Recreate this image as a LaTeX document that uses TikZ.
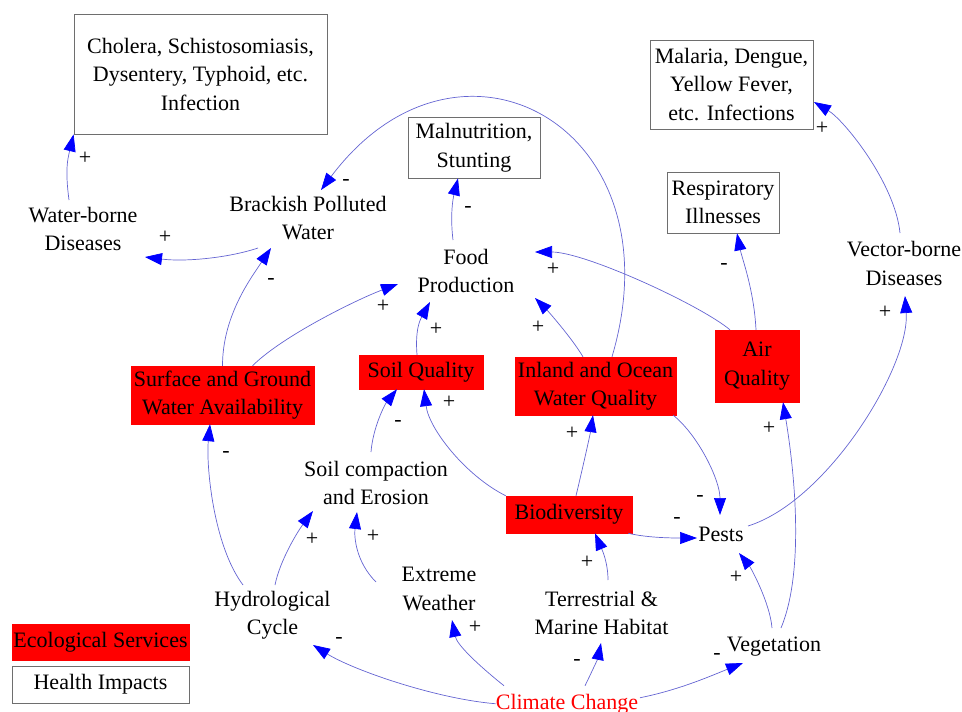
\documentclass[tikz,border=0pt]{standalone}
\usepackage{fontspec}
\setmainfont{Liberation Serif}
\usetikzlibrary{arrows.meta}
\definecolor{linkcol}{RGB}{100,100,210}
\definecolor{boxgray}{RGB}{110,110,110}
\definecolor{ecored}{RGB}{255,0,0}
\tikzset{
  lbl/.style={font=\fontsize{22}{28.5}\selectfont, align=center, inner sep=0pt},
  hbox/.style={lbl, draw=boxgray, line width=0.8pt},
  ebox/.style={lbl, fill=ecored, draw=ecored},
  link/.style={draw=linkcol, line width=0.7pt, -{Triangle[length=17pt,width=12pt,color=blue]}},
  sign/.style={font=\fontsize{22}{28.5}\selectfont, inner sep=0pt, anchor=base},
}
\begin{document}
\begin{tikzpicture}[x=1pt,y=-1pt]
\useasboundingbox (0,0) rectangle (962,712);

% health impacts
\node[hbox, minimum width=253pt, minimum height=120pt] (chol) at (200.5,74) {Cholera, Schistosomiasis,\\Dysentery, Typhoid, etc.\\Infection};
\node[hbox, minimum width=163pt, minimum height=89pt] (mal) at (731.5,84.5) {Malaria, Dengue,\\Yellow Fever,\\etc. Infections};
\node[hbox, minimum width=132pt, minimum height=61pt] (malnut) at (474,147.5) {Malnutrition,\\Stunting};
\node[hbox, minimum width=112pt, minimum height=61pt] (resp) at (723,202.5) {Respiratory\\Illnesses};

% intermediate variables
\node[lbl] (wbd) at (83,229) {Water-borne\\Diseases};
\node[lbl] (brack) at (308,218) {Brackish Polluted\\Water};
\node[lbl] (food) at (466,271) {Food\\Production};
\node[lbl] (vbd) at (904,263.5) {Vector-borne\\Diseases};
\node[lbl] (soilc) at (376,483) {Soil compaction\\and Erosion};
\node[lbl] (pests) at (721,534) {Pests};
\node[lbl] (hydro) at (272.5,615) {Hydrological\\Cycle};
\node[lbl] (extreme) at (439,589) {Extreme\\Weather};
\node[lbl] (terr) at (601.5,613) {Terrestrial \&\\Marine Habitat};
\node[lbl] (veg) at (774,647) {Vegetation};
\node[lbl, text=ecored, anchor=base] (climate) at (567,709) {Climate Change};

% ecological services
\node[ebox, minimum width=183pt, minimum height=58pt] (sgw) at (222.5,395) {Surface and Ground\\Water Availability};
\node[ebox, minimum width=124pt, minimum height=34pt] (soilq) at (421,372) {Soil Quality};
\node[ebox, minimum width=161pt, minimum height=58pt] (inland) at (595.5,386) {Inland and Ocean\\Water Quality};
\node[ebox, minimum width=84pt, minimum height=72pt] (air) at (757,366) {Air\\Quality};
\node[ebox, minimum width=126pt, minimum height=37pt] (bio) at (569,514.5) {Biodiversity};

% legend
\node[ebox, minimum width=177pt, minimum height=36pt] (legeco) at (100.5,642) {Ecological Services};
\node[hbox, minimum width=177pt, minimum height=37pt] (leghealth) at (100.5,684.5) {Health Impacts};

% causal links
\draw[link] ([shift={(-14,-29)}]wbd.center) .. controls +(-4,-30) and +(-6,25) .. (chol.south west);
\draw[link] ([shift={(-50,30)}]brack.center) .. controls +(-30,10) and +(40,5) .. ([shift={(62,28)}]wbd.center);
\draw[link] (sgw.north) .. controls +(0,-50) and +(-20,30) .. ([shift={(-37,30)}]brack.center);
\draw[link] ([shift={(30,0)}]sgw.north) .. controls +(30,-30) and +(-40,15) .. ([shift={(-68,13)}]food.center);
\draw[link] ([shift={(-4,0)}]soilq.north) .. controls +(-2,-25) and +(-10,18) .. ([shift={(-36,31)}]food.center);
\draw[link] ([shift={(-12.5,0)}]inland.north) .. controls +(-12,-20) and +(12,12) .. ([shift={(69,27)}]food.center);
\draw[link] ([shift={(16.5,0)}]inland.north) .. controls +(68,-230) and +(138,-184) .. ([shift={(13,-28)}]brack.center);
\draw[link] ([shift={(-13,-31)}]food.center) .. controls +(-3,-25) and +(-5,20) .. ([shift={(-16,0)}]malnut.south);
\draw[link] ([shift={(-27,0)}]air.north) .. controls +(-30,-25) and +(50,0) .. ([shift={(69,-19)}]food.center);
\draw[link] ([shift={(-1,0)}]air.north) .. controls +(-2,-40) and +(5,25) .. ([shift={(14,0)}]resp.south);
\draw[link] ([shift={(-4,-30.5)}]vbd.center) .. controls +(-5,-50) and +(30,18) .. ([shift={(82.5,17.5)}]mal.center);
\draw[link] ([shift={(27,-8)}]pests.center) .. controls +(80,-25) and +(5,70) .. ([shift={(1,32.5)}]vbd.center);
\draw[link] ([shift={(-5,-31)}]soilc.center) .. controls +(2,-25) and +(-12,15) .. ([shift={(-24,0)}]soilq.south);
\draw[link] (bio.north west) .. controls +(-40,-20) and +(5,40) .. ([shift={(3,0)}]soilq.south);
\draw[link] ([shift={(7,0)}]bio.north) .. controls +(6,-25) and +(-3,20) .. ([shift={(-2.5,0)}]inland.south);
\draw[link] ([shift={(-4,0)}]bio.south east) .. controls +(20,5) and +(-20,0) .. ([shift={(-24,4)}]pests.center);
\draw[link] ([shift={(-3,0)}]inland.south east) .. controls +(25,20) and +(0,-35) .. ([shift={(-1,-19)}]pests.center);
\draw[link] ([shift={(-2,-19)}]veg.center) .. controls +(-2,-25) and +(12,15) .. ([shift={(18,19)}]pests.center);
\draw[link] ([shift={(7,-19)}]veg.center) .. controls +(25,-60) and +(10,60) .. ([shift={(26,0)}]air.south);
\draw[link] ([shift={(-29.5,-30)}]hydro.center) .. controls +(-30,-40) and +(-4,40) .. ([shift={(-12.5,0)}]sgw.south);
\draw[link] ([shift={(2.5,-30)}]hydro.center) .. controls +(5,-25) and +(-15,20) .. ([shift={(-63,28)}]soilc.center);
\draw[link] ([shift={(-63,-7)}]extreme.center) .. controls +(-20,-20) and +(-3,25) .. ([shift={(-19,29)}]soilc.center);
\draw[link] (climate.west) .. controls +(-60,-5) and +(40,25) .. ([shift={(40.5,30)}]hydro.center);
\draw[link] ([shift={(-63,-18)}]climate.center) .. controls +(-25,-20) and +(5,25) .. ([shift={(13,31)}]extreme.center);
\draw[link] ([shift={(18,-18)}]climate.center) .. controls +(5,-10) and +(-3,15) .. ([shift={(-0.5,30)}]terr.center);
\draw[link] ([shift={(73,-6)}]climate.center) .. controls +(40,-8) and +(-30,12) .. ([shift={(-31,16)}]veg.center);
\draw[link] ([shift={(6.5,-33)}]terr.center) .. controls +(0,-20) and +(5,12) .. ([shift={(26,0)}]bio.south);

% link polarities
\node[sign] (pa) at (85,164) {+};
\node[sign] (pb) at (165,243) {+};
\node[sign] (pc) at (271,284) {-};
\node[sign] (pd) at (383,312) {+};
\node[sign] (pe) at (436,335) {+};
\node[sign] (pf) at (538,333) {+};
\node[sign] (pg) at (346,185) {-};
\node[sign] (ph) at (468,212) {-};
\node[sign] (pi) at (553,275) {+};
\node[sign] (pj) at (724,269) {-};
\node[sign] (pk) at (822,134) {+};
\node[sign] (pl) at (885,318) {+};
\node[sign] (pm) at (398,426) {-};
\node[sign] (pn) at (449,408) {+};
\node[sign] (po) at (572,439) {+};
\node[sign] (pp) at (677,523) {-};
\node[sign] (pq) at (700,501) {-};
\node[sign] (pr) at (736,583) {+};
\node[sign] (ps) at (769,434) {+};
\node[sign] (pt) at (226,457) {-};
\node[sign] (pu) at (312,545) {+};
\node[sign] (pv) at (373,542) {+};
\node[sign] (pw) at (339,643) {-};
\node[sign] (px) at (475,633) {+};
\node[sign] (py) at (577,665) {-};
\node[sign] (pz) at (717,659) {-};
\node[sign] (paa) at (587,568) {+};
\end{tikzpicture}
\end{document}
